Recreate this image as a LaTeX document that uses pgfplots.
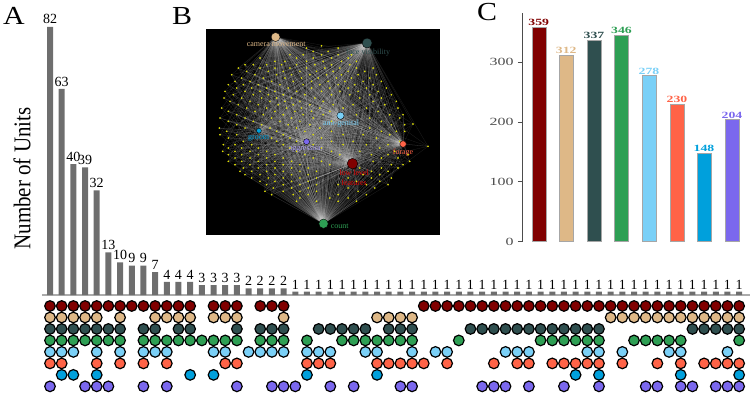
\documentclass[border=0pt]{standalone}
\usepackage{fontspec}
\setmainfont{Liberation Serif}
\newfontfamily\wideserif[FakeStretch=1.15]{Liberation Serif}
\newfontfamily\tallserif[FakeStretch=0.875]{Liberation Serif}
\newfontfamily\tickserif[FakeStretch=1.45]{Liberation Serif}
\newfontfamily\labserif[FakeStretch=1.45,BoldFont={Liberation Serif Bold}]{Liberation Serif}
\usepackage{pgfplots}
\usepackage{pgfplotstable}
\pgfplotsset{compat=1.18}
\definecolor{cLow}{HTML}{800000}
\definecolor{cCam}{HTML}{DEB887}
\definecolor{cFace}{HTML}{2F4F4F}
\definecolor{cCount}{HTML}{2E9F54}
\definecolor{cAno}{HTML}{7AD0F7}
\definecolor{cFor}{HTML}{FF6347}
\definecolor{cGroom}{HTML}{00A0DC}
\definecolor{cAgg}{HTML}{7B68EE}
\definecolor{barGray}{HTML}{6E6E6E}
\definecolor{baseGray}{HTML}{ABABAB}
\definecolor{dotY}{HTML}{E6E600}
\pgfplotsset{
  every axis/.append style={/pgf/number format/assume math mode=true},
  mdot/.style={only marks, mark=*, mark size=5.3pt, mark options={draw=black, fill=#1, line width=1.2pt}},
  hub/.style 2 args={only marks, mark=*, mark size=#2pt, mark options={draw=none, fill=#1}},
  cbar/.style={ybar, bar width=14pt, bar shift=0pt, fill=#1, draw=gray!70, line width=0.4pt,
    nodes near coords, every node near coord/.style={font=\labserif\bfseries\fontsize{9.5}{9.5}\selectfont, text=#1, anchor=south, inner sep=1pt}},
  edge/.style={draw=white!85!black, opacity=0.14, line width=0.3pt, no marks},
}
\pgfplotstableread[row sep=\\]{x y\\
365 78\\ 320 85\\ 415 85\\ 340 95\\ 385 95\\ 270 105\\ 310 105\\ 365 105\\ 415 105\\ 455 105\\
180 115\\ 290 115\\ 340 115\\ 395 115\\ 445 115\\ 225 125\\ 255 125\\ 320 125\\ 370 125\\ 425 125\\ 470 125\\
135 135\\ 160 135\\ 200 135\\ 245 135\\ 290 135\\ 345 135\\ 395 135\\ 450 135\\
115 145\\ 180 145\\ 225 145\\ 270 145\\ 320 145\\ 375 145\\ 420 145\\ 470 145\\ 520 145\\
140 155\\ 205 155\\ 250 155\\ 300 155\\ 350 155\\ 400 155\\ 445 155\\ 495 155\\
95 165\\ 165 165\\ 230 165\\ 275 165\\ 330 165\\ 380 165\\ 425 165\\ 475 165\\ 530 165\\
125 175\\ 190 175\\ 255 175\\ 305 175\\ 355 175\\ 410 175\\ 455 175\\ 510 175\\
105 185\\ 150 185\\ 215 185\\ 280 185\\ 335 185\\ 385 185\\ 435 185\\ 490 185\\ 545 185\\
85 195\\ 130 195\\ 175 195\\ 240 195\\ 310 195\\ 360 195\\ 415 195\\ 465 195\\ 520 195\\
110 205\\ 155 205\\ 200 205\\ 265 205\\ 335 205\\ 390 205\\ 445 205\\ 500 205\\ 560 205\\
75 215\\ 135 215\\ 180 215\\ 225 215\\ 290 215\\ 365 215\\ 420 215\\ 475 215\\ 535 215\\
100 225\\ 160 225\\ 205 225\\ 250 225\\ 315 225\\ 395 225\\ 450 225\\ 510 225\\ 575 225\\
72 235\\ 125 235\\ 185 235\\ 230 235\\ 275 235\\ 345 235\\ 480 235\\ 545 235\\
90 245\\ 150 245\\ 210 245\\ 255 245\\ 300 245\\ 370 245\\ 520 245\\ 590 245\\
115 255\\ 175 255\\ 235 255\\ 280 255\\ 330 255\\ 400 255\\ 460 255\\ 555 255\\
65 265\\ 140 265\\ 200 265\\ 260 265\\ 305 265\\ 360 265\\ 430 265\\ 500 265\\ 595 265\\
85 275\\ 165 275\\ 225 275\\ 285 275\\ 335 275\\ 390 275\\ 535 275\\
110 285\\ 190 285\\ 250 285\\ 310 285\\ 370 285\\ 470 285\\ 570 285\\ 610 285\\
60 295\\ 135 295\\ 215 295\\ 275 295\\ 340 295\\ 510 295\\ 600 295\\
85 305\\ 160 305\\ 240 305\\ 300 305\\ 395 305\\ 545 305\\ 640 313\\
110 315\\ 185 315\\ 265 315\\ 330 315\\ 575 315\\ 615 315\\
58 325\\ 135 325\\ 210 325\\ 290 325\\ 360 325\\ 510 325\\
80 335\\ 230 335\\ 315 335\\ 395 335\\ 545 335\\ 590 335\\ 615 335\\
60 345\\ 110 345\\ 250 345\\ 340 345\\ 430 345\\ 490 345\\ 570 345\\
85 355\\ 215 355\\ 270 355\\ 365 355\\ 530 355\\
130 365\\ 230 365\\ 290 365\\ 395 365\\ 460 365\\ 600 365\\
70 375\\ 105 375\\ 155 375\\ 250 375\\ 340 375\\ 430 375\\ 500 375\\ 565 375\\ 685 380\\
85 385\\ 125 385\\ 175 385\\ 270 385\\ 365 385\\ 540 385\\
68 395\\ 105 395\\ 150 395\\ 200 395\\ 290 395\\ 395 395\\ 480 395\\ 585 395\\
85 405\\ 125 405\\ 175 405\\ 225 405\\ 315 405\\ 420 405\\ 515 405\\ 565 405\\ 625 405\\
105 415\\ 150 415\\ 200 415\\ 250 415\\ 340 415\\ 545 415\\ 595 415\\
85 425\\ 125 425\\ 175 425\\ 225 425\\ 275 425\\ 365 425\\ 520 425\\ 630 425\\
105 435\\ 150 435\\ 200 435\\ 250 435\\ 300 435\\ 390 435\\ 575 435\\ 610 435\\
130 445\\ 175 445\\ 225 445\\ 275 445\\ 325 445\\ 480 445\\ 545 445\\ 595 445\\
120 455\\ 155 455\\ 200 455\\ 250 455\\ 300 455\\ 350 455\\ 515 455\\ 565 455\\
135 465\\ 180 465\\ 225 465\\ 275 465\\ 325 465\\ 490 465\\ 540 465\\
155 475\\ 205 475\\ 250 475\\ 300 475\\ 350 475\\ 445 475\\ 515 475\\ 575 475\\
180 485\\ 225 485\\ 275 485\\ 325 485\\ 470 485\\ 540 485\\
200 495\\ 250 495\\ 300 495\\ 350 495\\ 415 495\\ 500 495\\ 565 495\\
220 505\\ 275 505\\ 325 505\\ 445 505\\ 525 505\\
195 515\\ 250 515\\ 300 515\\ 350 515\\ 475 515\\
215 525\\ 280 525\\ 325 525\\ 415 525\\ 500 525\\
300 535\\ 390 535\\ 445 535\\ 290 545\\ 350 545\\ 415 545\\ 470 545\\
}\netdots
\begin{document}
\begin{tikzpicture}[x=1pt,y=1pt]
\path[use as bounding box] (0,0) rectangle (750,394);
% Panel A: bars
\begin{axis}[scale only axis, width=708pt, height=280pt, at={(42pt,99pt)}, anchor=south west,
  xmin=-0.685, xmax=59.93, ymin=0, ymax=85.6, clip=false,
  axis x line=bottom, axis y line=none, xtick=\empty, ytick=\empty,
  axis line style={draw=baseGray, line width=1.5pt, -},
]
\addplot[ybar, bar width=6pt, bar shift=0pt, fill=barGray, draw=none,
  nodes near coords, every node near coord/.style={font=\fontsize{14}{14}\selectfont, text=black, anchor=south, inner sep=1pt, yshift=1.5pt}]
 coordinates {(0,82)(1,63)(2,40)(3,39)(4,32)(5,13)(6,10)(7,9)(8,9)(9,7)(10,4)(11,4)(12,4)(13,3)(14,3)(15,3)(16,3)(17,2)(18,2)(19,2)(20,2)
 (21,1)(22,1)(23,1)(24,1)(25,1)(26,1)(27,1)(28,1)(29,1)(30,1)(31,1)(32,1)(33,1)(34,1)(35,1)(36,1)(37,1)(38,1)(39,1)(40,1)(41,1)(42,1)(43,1)(44,1)(45,1)(46,1)(47,1)(48,1)(49,1)(50,1)(51,1)(52,1)(53,1)(54,1)(55,1)(56,1)(57,1)(58,1)(59,1)};
\end{axis}
% Panel A: membership matrix
\begin{axis}[scale only axis, width=708pt, height=97.58pt, at={(42pt,1.9pt)}, anchor=south west,
  xmin=-0.685, xmax=59.93, ymin=0, ymax=8.5, y dir=reverse, clip=false, hide axis]
\addplot[mdot=cLow] coordinates {(0,1)(1,1)(2,1)(3,1)(4,1)(5,1)(6,1)(7,1)(8,1)(9,1)(10,1)(11,1)(12,1)(14,1)(15,1)(16,1)(18,1)(19,1)(20,1)(32,1)(33,1)(34,1)(35,1)(36,1)(37,1)(38,1)(39,1)(40,1)(41,1)(42,1)(43,1)(44,1)(45,1)(46,1)(47,1)(48,1)(49,1)(50,1)(51,1)(52,1)(53,1)(54,1)(55,1)(56,1)(57,1)(58,1)(59,1)};
\addplot[mdot=cCam] coordinates {(0,2)(1,2)(2,2)(3,2)(4,2)(6,2)(9,2)(10,2)(11,2)(12,2)(14,2)(15,2)(16,2)(20,2)(28,2)(29,2)(30,2)(31,2)(48,2)(49,2)(50,2)(51,2)(52,2)(53,2)(54,2)(55,2)(56,2)(57,2)(58,2)(59,2)};
\addplot[mdot=cFace] coordinates {(0,3)(1,3)(2,3)(3,3)(4,3)(5,3)(6,3)(8,3)(9,3)(11,3)(12,3)(16,3)(18,3)(19,3)(20,3)(23,3)(24,3)(25,3)(26,3)(27,3)(29,3)(30,3)(31,3)(36,3)(37,3)(38,3)(39,3)(40,3)(41,3)(42,3)(43,3)(44,3)(45,3)(46,3)(47,3)(55,3)(56,3)(57,3)(58,3)(59,3)};
\addplot[mdot=cCount] coordinates {(0,4)(1,4)(2,4)(3,4)(4,4)(5,4)(6,4)(8,4)(9,4)(10,4)(11,4)(12,4)(13,4)(14,4)(15,4)(16,4)(18,4)(19,4)(20,4)(22,4)(25,4)(26,4)(27,4)(28,4)(29,4)(30,4)(31,4)(35,4)(42,4)(43,4)(44,4)(45,4)(46,4)(47,4)(50,4)(51,4)(52,4)(53,4)(54,4)(59,4)};
\addplot[mdot=cAno] coordinates {(0,5)(1,5)(2,5)(4,5)(6,5)(8,5)(9,5)(10,5)(14,5)(15,5)(17,5)(18,5)(19,5)(20,5)(22,5)(23,5)(24,5)(27,5)(28,5)(31,5)(33,5)(34,5)(39,5)(40,5)(41,5)(46,5)(47,5)(49,5)(53,5)(54,5)(58,5)};
\addplot[mdot=cFor] coordinates {(0,6)(1,6)(4,6)(6,6)(8,6)(10,6)(15,6)(16,6)(22,6)(23,6)(24,6)(28,6)(29,6)(30,6)(31,6)(32,6)(34,6)(38,6)(40,6)(41,6)(43,6)(44,6)(45,6)(46,6)(47,6)(49,6)(52,6)(54,6)(56,6)(57,6)(58,6)(59,6)};
\addplot[mdot=cGroom] coordinates {(1,7)(2,7)(4,7)(12,7)(14,7)(22,7)(28,7)(45,7)(47,7)(54,7)(59,7)};
\addplot[mdot=cAgg] coordinates {(0,8)(3,8)(4,8)(5,8)(8,8)(10,8)(16,8)(19,8)(20,8)(21,8)(24,8)(26,8)(30,8)(31,8)(37,8)(38,8)(39,8)(41,8)(44,8)(47,8)(51,8)(52,8)(54,8)(55,8)(57,8)(58,8)(59,8)};
\end{axis}
% Panel B: network
\begin{axis}[scale only axis, width=233.3pt, height=204.3pt, at={(205.7pt,160pt)}, anchor=south west,
  xmin=17, xmax=718, ymin=30, ymax=643, y dir=reverse, ticks=none,
  axis line style={draw=black}, axis background/.style={fill=black}]
\addplot[edge, quiver={u=458-\thisrow{x}, v=432-\thisrow{y}}] table[x=x,y=y] {\netdots};
\addplot[edge, quiver={u=371-\thisrow{x}, v=612-\thisrow{y}}] table[x=x,y=y] {\netdots};
\addplot[edge, quiver={u=227-\thisrow{x}, v=52-\thisrow{y}}, x filter/.expression={mod(\coordindex,8)==0 ? nan : x}] table[x=x,y=y] {\netdots};
\addplot[edge, quiver={u=502-\thisrow{x}, v=70-\thisrow{y}}, x filter/.expression={mod(\coordindex,16)==0 ? nan : x}] table[x=x,y=y] {\netdots};
\addplot[edge, quiver={u=422-\thisrow{x}, v=288-\thisrow{y}}, x filter/.expression={mod(\coordindex,4)==0 ? nan : x}] table[x=x,y=y] {\netdots};
\addplot[edge, quiver={u=610-\thisrow{x}, v=373-\thisrow{y}}, x filter/.expression={mod(\coordindex,3)==0 ? nan : x}] table[x=x,y=y] {\netdots};
\addplot[edge, quiver={u=177-\thisrow{x}, v=333-\thisrow{y}}, x filter/.expression={mod(\coordindex,5)<2 ? x : nan}] table[x=x,y=y] {\netdots};
\addplot[edge, quiver={u=320-\thisrow{x}, v=366-\thisrow{y}}, x filter/.expression={mod(\coordindex,7)<4 ? x : nan}] table[x=x,y=y] {\netdots};
\addplot[only marks, draw=dotY, fill=dotY, mark=*, mark size=0.7pt, mark options={draw=dotY, fill=dotY, line width=0.2pt, opacity=1}] table[x=x,y=y] {\netdots};
\addplot[hub={cLow}{5.3}] coordinates {(458,432)};
\addplot[hub={cCam}{4.5}] coordinates {(227,52)};
\addplot[hub={cFace}{5}] coordinates {(502,70)};
\addplot[hub={cCount}{4.7}] coordinates {(371,612)};
\addplot[hub={cAno}{3.7}] coordinates {(422,288)};
\addplot[hub={cFor}{3.3}] coordinates {(610,373)};
\addplot[hub={cGroom}{2.5}] coordinates {(177,333)};
\addplot[hub={cAgg}{3}] coordinates {(320,366)};
\tikzset{lab/.style={font=\fontsize{8}{9.4}\selectfont, inner sep=0pt, align=center}}
\node[lab, text=cCam] at (axis cs:229,74) {camera movement};
\node[lab, text=cFace] at (axis cs:505,98) {face visibility};
\node[lab, text=cAno] at (axis cs:424,311) {ano-genital};
\node[lab, text=cGroom] at (axis cs:176,355) {groom};
\node[lab, text=cAgg!65!white] at (axis cs:318,388) {aggression};
\node[lab, text=cFor] at (axis cs:610,398) {forage};
\node[lab, text=red!85!black] at (axis cs:463,474) {low level\\features};
\node[lab, text=cCount] at (axis cs:420,620) {count};
\end{axis}
% Panel C
\begin{axis}[scale only axis, width=227.7pt, height=228.7pt, at={(522.3pt,152.3pt)}, anchor=south west,
  xmin=522.3, xmax=750, ymin=0, ymax=382.4, clip=false,
  axis y line=left, axis x line=none, xtick=\empty, ytick={0,100,200,300},
  axis line style={draw=black!70, line width=0.8pt, -},
  tick style={draw=black!70, line width=0.8pt}, tick align=outside, major tick length=4.5pt,
  yticklabel style={font=\tickserif\fontsize{11}{11}\selectfont, text=black!70, inner sep=1pt, xshift=-3pt}]
\addplot[cbar=cLow] coordinates {(538.7,359)};
\addplot[cbar=cCam] coordinates {(566.3,312)};
\addplot[cbar=cFace] coordinates {(594,337)};
\addplot[cbar=cCount] coordinates {(621.5,346)};
\addplot[cbar=cAno] coordinates {(649,278)};
\addplot[cbar=cFor] coordinates {(677,230)};
\addplot[cbar=cGroom] coordinates {(704,148)};
\addplot[cbar=cAgg] coordinates {(732,204)};
\end{axis}
% Panel letters and title
\tikzset{pan/.style={font=\wideserif\fontsize{26}{26}\selectfont, inner sep=0pt, anchor=base}}
\node[pan] at (14,369) {A};
\node[pan] at (182,369) {B};
\node[pan] at (487,373) {C};
\node[rotate=90, font=\tallserif\fontsize{24}{24}\selectfont, inner sep=0pt] at (22,215.5) {Number of Units};
\end{tikzpicture}
\end{document}
